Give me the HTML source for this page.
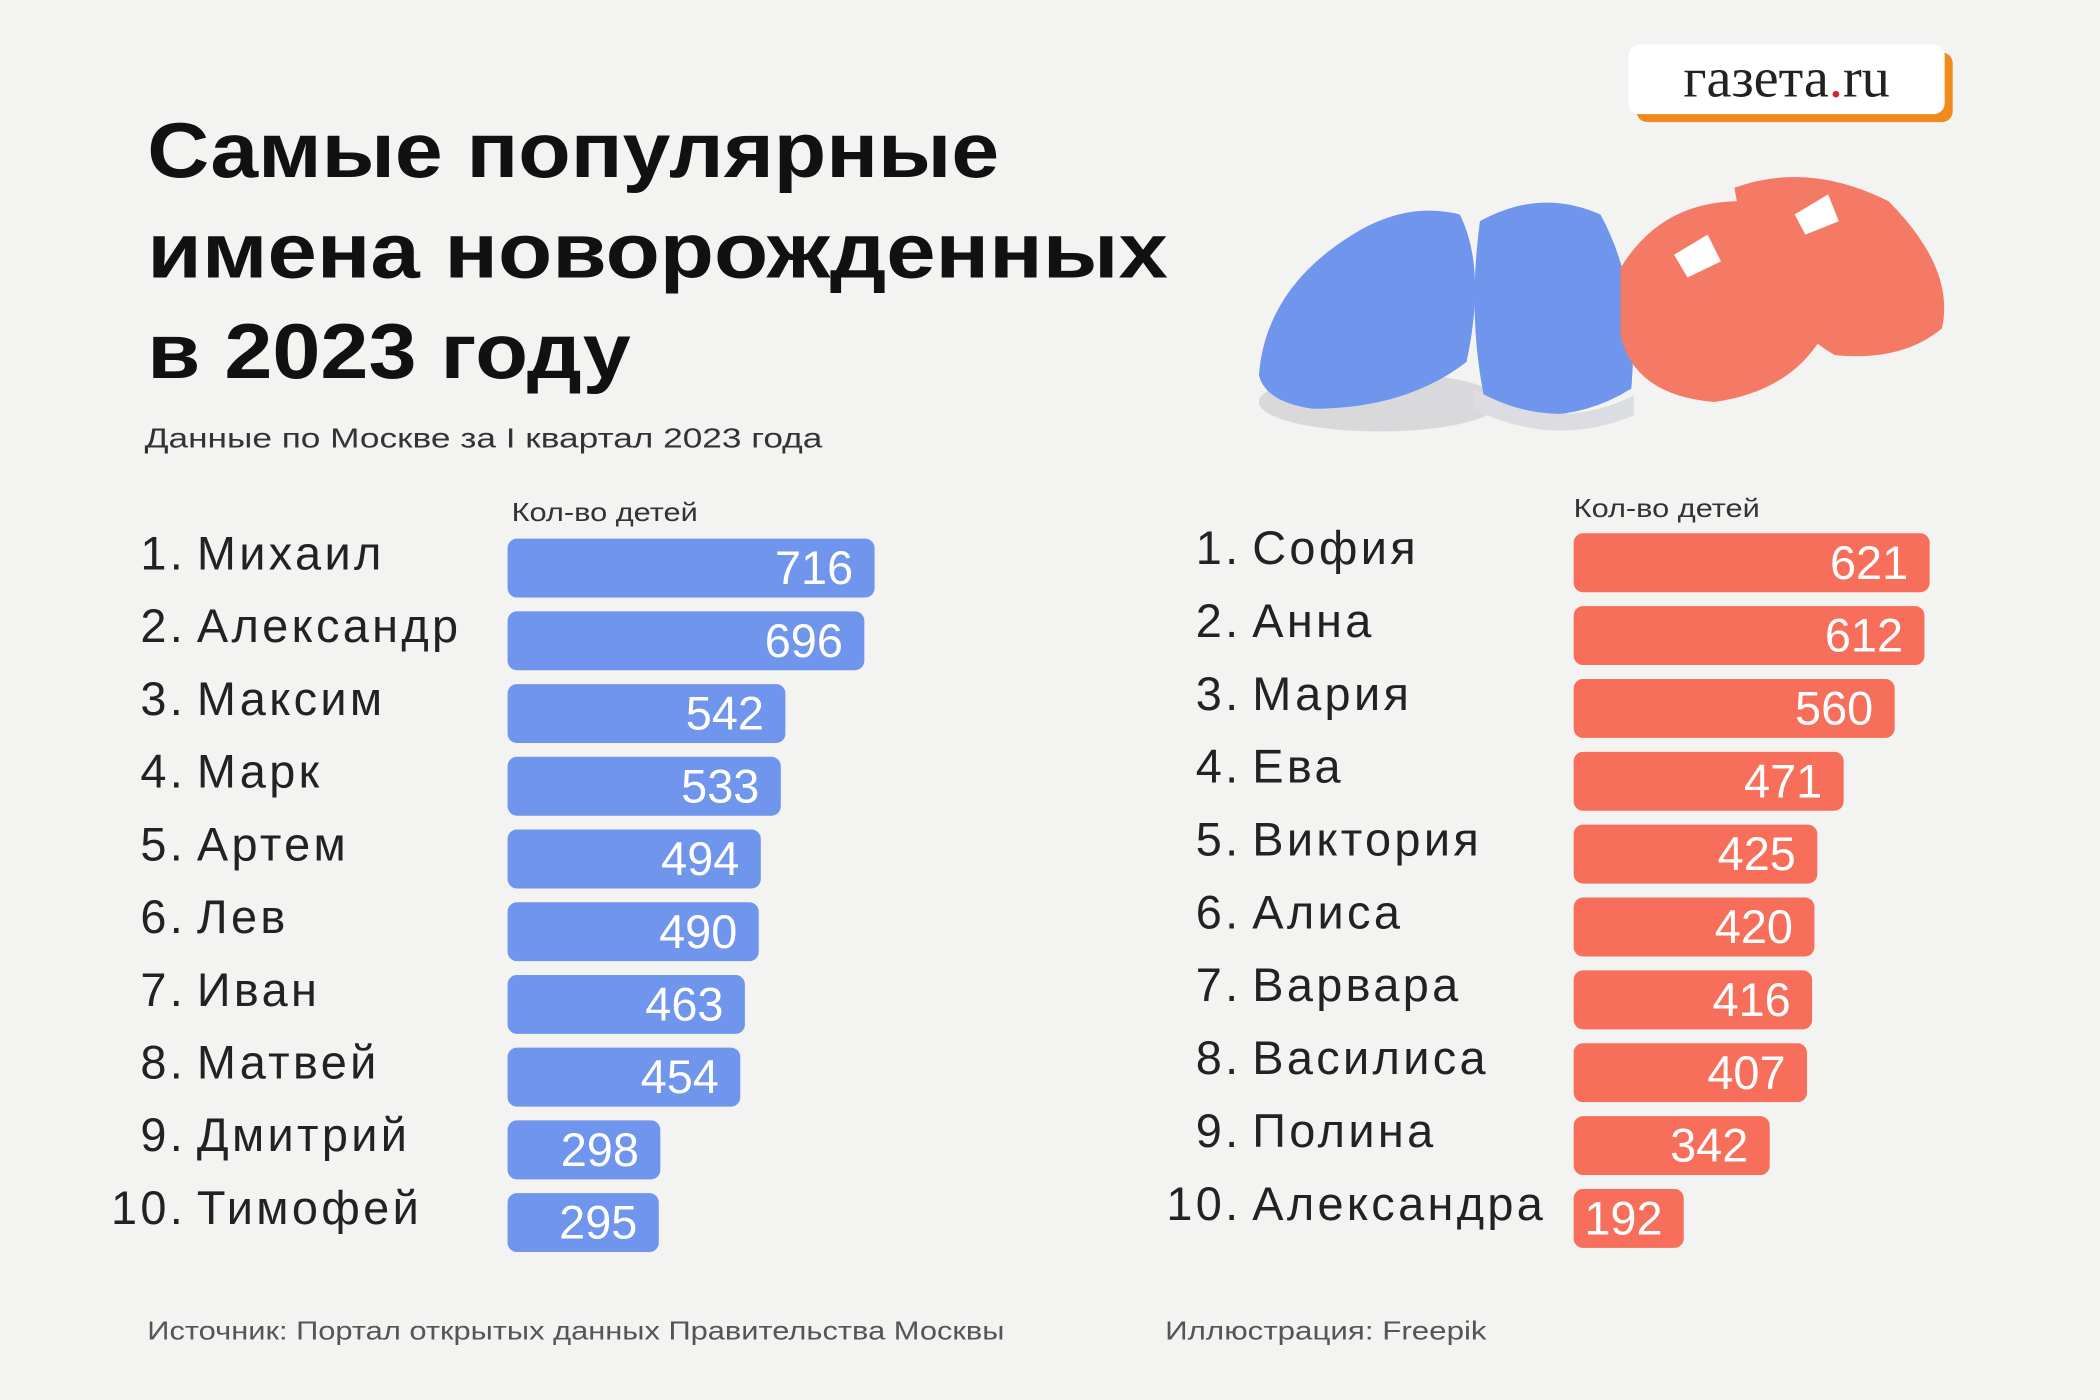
<!DOCTYPE html>
<html><head><meta charset="utf-8"><style>
html,body{margin:0;padding:0;background:#f3f3f2;}
svg{display:block;}
text{font-family:"Liberation Sans","DejaVu Sans",sans-serif;}
</style></head><body>
<svg id="chart" width="2100" height="1400" viewBox="0 0 1568 1045" xmlns="http://www.w3.org/2000/svg">
<rect width="1568" height="1045" fill="#f3f3f2"/>
<g font-weight="bold" font-size="58" fill="#111">
<text x="110" y="132" textLength="636" lengthAdjust="spacingAndGlyphs">Самые популярные</text>
<text x="110" y="207" textLength="762" lengthAdjust="spacingAndGlyphs">имена новорожденных</text>
<text x="110" y="282" textLength="361" lengthAdjust="spacingAndGlyphs">в 2023 году</text>
</g>
<text x="108" y="334" font-size="21" fill="#333" textLength="506" lengthAdjust="spacingAndGlyphs">Данные по Москве за I квартал 2023 года</text>
<g>
<rect x="1222" y="39" width="236" height="52" rx="8" fill="#f08a1c"/>
<rect x="1216" y="33" width="236" height="52" rx="8" fill="#fff"/>
<text x="1334" y="72" text-anchor="middle" style="font-family:'Liberation Serif',serif" font-size="42" fill="#222">газета<tspan fill="#d3242c">.</tspan>ru</text>
</g>
<g>
<ellipse cx="1030" cy="300" rx="90" ry="22" fill="#d9d9dc"/>
<path d="M940 280 Q945 215 1010 175 Q1050 150 1090 160 Q1110 200 1095 270 Q1050 305 980 305 Q945 300 940 280Z" fill="#6f95ec"/>
<path d="M1105 165 Q1150 140 1195 160 Q1225 215 1218 290 Q1170 320 1110 305 Q1095 240 1105 165Z" fill="#6f95ec"/>
<path d="M1100 290 Q1160 325 1220 295 L1220 310 Q1160 335 1100 305Z" fill="#dcdde2"/>
<path d="M1210 200 Q1240 150 1300 150 Q1360 160 1370 230 Q1350 290 1280 300 Q1220 295 1210 250Z" fill="#f47a66"/>
<path d="M1295 140 Q1350 120 1410 150 Q1460 200 1450 245 Q1420 270 1370 265 Q1310 230 1295 140Z" fill="#f47a66"/>
<path d="M1250 190 l25 -15 l10 20 l-25 12Z M1340 160 l25 -15 l8 20 l-25 10Z" fill="#fff"/>
</g>
<text x="382" y="389" font-size="19" fill="#333" textLength="139" lengthAdjust="spacingAndGlyphs">Кол-во детей</text>
<text x="1175" y="386" font-size="19" fill="#333" textLength="139" lengthAdjust="spacingAndGlyphs">Кол-во детей</text>
<g id="boys"></g>
<g id="girls"></g>
<text x="110" y="1000" font-size="19" fill="#555" textLength="640" lengthAdjust="spacingAndGlyphs">Источник: Портал открытых данных Правительства Москвы</text>
<text x="870" y="1000" font-size="19" fill="#555" textLength="240" lengthAdjust="spacingAndGlyphs">Иллюстрация:  Freepik</text>
</svg>
<script>
const boyNames = ["Михаил","Александр","Максим","Марк","Артем","Лев","Иван","Матвей","Дмитрий","Тимофей"];
const boyValues = [716,696,542,533,494,490,463,454,298,295];
const girlNames = ["София","Анна","Мария","Ева","Виктория","Алиса","Варвара","Василиса","Полина","Александра"];
const girlValues = [621,612,560,471,425,420,416,407,342,192];
const NS="http://www.w3.org/2000/svg";
function mk(tag,attrs,parent){const e=document.createElementNS(NS,tag);for(const k in attrs)e.setAttribute(k,attrs[k]);parent.appendChild(e);return e;}
function draw(g,names,vals,cfg){
  const xScale=v=>v*cfg.k;
  const yScale=i=>cfg.y0+i*cfg.step;
  names.forEach((n,i)=>{
    const cy=yScale(i);
    const num=mk('text',{x:cfg.numX,y:cy+5,'font-size':35,'text-anchor':'end',fill:'#222','letter-spacing':2.5},g);
    num.textContent=(i+1)+'.';
    
    
    const nm=mk('text',{x:cfg.numX+8,y:cy+5,'font-size':35,fill:'#222','letter-spacing':2.5},g);
    nm.textContent=n;
    
    
    const w=xScale(vals[i]);
    const b=mk('rect',{x:cfg.x0,y:cy-22+4,width:w,height:44,rx:7,fill:cfg.color},g);
    
    
    const v=mk('text',{x:cfg.x0+w-16,y:cy+16,'font-size':35,'text-anchor':'end',fill:'#fff'},g);
    if(w<110){v.setAttribute('x',cfg.x0+8);v.setAttribute('text-anchor','start');}
    v.textContent=vals[i];
    
    
  });
}
draw(document.getElementById('boys'),boyNames,boyValues,{x0:379,k:0.3827,y0:420,step:54.3,numX:139,color:'#6f95ec'});
draw(document.getElementById('girls'),girlNames,girlValues,{x0:1175,k:0.428,y0:416,step:54.4,numX:927,color:'#f76e5a'});
</script>
</body></html>
